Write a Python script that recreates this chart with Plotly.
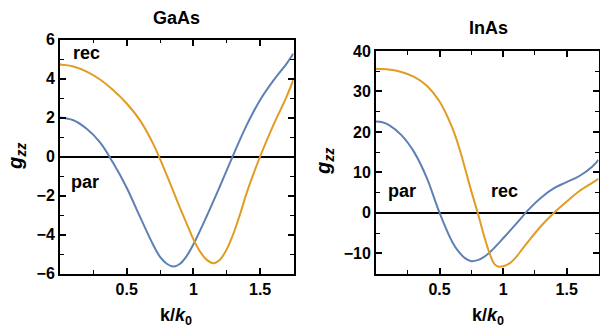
import plotly.graph_objects as go

# ---- GaAs data ----
gaas_par_k = [0.0, 0.1, 0.2, 0.3, 0.4, 0.5, 0.6, 0.7, 0.75, 0.8, 0.85, 0.9, 0.95, 1.0, 1.1, 1.2, 1.3, 1.4, 1.5, 1.6, 1.7, 1.75]
gaas_par_g = [2.0, 1.86, 1.42, 0.72, -0.35, -1.6, -3.1, -4.55, -5.15, -5.5, -5.64, -5.5, -5.1, -4.5, -3.05, -1.5, 0.1, 1.62, 2.9, 3.9, 4.78, 5.28]

gaas_rec_k = [0.0, 0.1, 0.2, 0.3, 0.4, 0.5, 0.6, 0.7, 0.8, 0.9, 0.95, 1.0, 1.05, 1.1, 1.15, 1.2, 1.25, 1.3, 1.35, 1.4, 1.5, 1.6, 1.7, 1.75]
gaas_rec_g = [4.72, 4.62, 4.35, 3.95, 3.4, 2.72, 1.85, 0.62, -0.95, -2.65, -3.45, -4.25, -4.88, -5.3, -5.47, -5.28, -4.75, -3.95, -2.95, -1.85, 0.0, 1.62, 3.1, 3.95]

# ---- InAs data ----
inas_par_k = [0.0, 0.05, 0.1, 0.2, 0.3, 0.4, 0.5, 0.6, 0.65, 0.7, 0.75, 0.8, 0.85, 0.9, 1.0, 1.1, 1.2, 1.3, 1.4, 1.5, 1.6, 1.7, 1.75]
inas_par_g = [22.6, 22.4, 21.75, 19.2, 15.0, 8.6, 0.0, -7.2, -9.6, -11.2, -11.95, -11.7, -10.9, -9.6, -6.3, -2.8, 0.8, 3.8, 6.1, 7.6, 9.1, 11.4, 13.1]

inas_rec_k = [0.0, 0.1, 0.2, 0.3, 0.4, 0.5, 0.6, 0.65, 0.7, 0.75, 0.8, 0.85, 0.9, 0.93, 0.96, 1.0, 1.05, 1.1, 1.15, 1.2, 1.3, 1.4, 1.5, 1.6, 1.7, 1.75]
inas_rec_g = [35.6, 35.4, 34.8, 33.6, 31.4, 27.5, 21.0, 16.5, 11.0, 5.3, 0.0, -5.7, -10.6, -12.6, -13.25, -13.2, -12.5, -11.0, -9.0, -7.0, -3.2, 0.0, 2.8, 5.4, 7.4, 8.4]

x_tickvals = [0.5, 1, 1.5]
x_ticktext = ["0.5", "1", "1.5"]
gaas_yticks = [-6, -4, -2, 0, 2, 4, 6]
inas_yticks = [-10, 0, 10, 20, 30, 40]

BLUE = "#5E81B5"
ORANGE = "#E19C24"
FONT = "Liberation Sans"

fig = go.Figure()
def line(c):
    return dict(color=c, width=2, shape="spline", smoothing=1.0)
fig.add_trace(go.Scatter(x=gaas_par_k, y=gaas_par_g, mode="lines", line=line(BLUE), xaxis="x", yaxis="y", showlegend=False, hoverinfo="skip"))
fig.add_trace(go.Scatter(x=gaas_rec_k, y=gaas_rec_g, mode="lines", line=line(ORANGE), xaxis="x", yaxis="y", showlegend=False, hoverinfo="skip"))
fig.add_trace(go.Scatter(x=inas_par_k, y=inas_par_g, mode="lines", line=line(BLUE), xaxis="x2", yaxis="y2", showlegend=False, hoverinfo="skip"))
fig.add_trace(go.Scatter(x=inas_rec_k, y=inas_rec_g, mode="lines", line=line(ORANGE), xaxis="x2", yaxis="y2", showlegend=False, hoverinfo="skip"))

W, H = 600, 331
def fx(px): return px / W
def fy(py): return 1 - py / H

tickfont = dict(family=FONT, size=16, color="black")
common_x = dict(range=[0, 1.75], tickvals=x_tickvals, ticktext=[f"<b>{t}</b>" for t in x_ticktext],
                ticks="inside", ticklen=6, tickwidth=1.5, tickcolor="black",
                showline=True, linewidth=2, linecolor="black", mirror="allticks",
                showgrid=False, zeroline=False, tickfont=tickfont, automargin=False,
                minor=dict(dtick=0.25, tick0=0, ticks="inside", ticklen=3.5, tickwidth=1.2, tickcolor="black", showgrid=False))
common_y = dict(ticks="inside", ticklen=6, tickwidth=1.5, tickcolor="black",
                showline=True, linewidth=2, linecolor="black", mirror="allticks", automargin=False,
                showgrid=False, zeroline=True, zerolinecolor="black", zerolinewidth=1.6, tickfont=tickfont)

fig.update_layout(
    width=W, height=H,
    margin=dict(l=0, r=0, t=0, b=0, autoexpand=False),
    paper_bgcolor="white", plot_bgcolor="white",
    xaxis=dict(domain=[fx(60), fx(293.5)], anchor="y", **common_x),
    yaxis=dict(domain=[fy(273.5), fy(39.5)], anchor="x", range=[-6, 6], tickvals=gaas_yticks,
               ticktext=[f"<b>{'−' if v < 0 else ''}{abs(v)}</b>" for v in gaas_yticks],
               minor=dict(dtick=1, tick0=0, ticks="inside", ticklen=3.5, tickwidth=1.2, tickcolor="black", showgrid=False),
               **common_y),
    xaxis2=dict(domain=[fx(376), fx(598.5)], anchor="y2", **common_x),
    yaxis2=dict(domain=[fy(273.5), fy(51)], anchor="x2", range=[-15, 40], tickvals=inas_yticks,
                ticktext=[f"<b>{'−' if v < 0 else ''}{abs(v)}</b>" for v in inas_yticks],
                minor=dict(dtick=5, tick0=0, ticks="inside", ticklen=3.5, tickwidth=1.2, tickcolor="black", showgrid=False),
                **common_y),
)

def A(text, px, py, size, angle=0):
    return dict(text=text, x=fx(px), y=fy(py), xref="paper", yref="paper", showarrow=False,
                xanchor="center", yanchor="middle", textangle=angle,
                font=dict(family=FONT, size=size, color="black"))

ann = [
    A("<b>GaAs</b>", 176, 18, 18),
    A("<b>InAs</b>", 488, 28, 18),
    A("<b>rec</b>", 86, 53, 18),
    A("<b>par</b>", 85, 182, 18),
    A("<b>par</b>", 402, 191, 18),
    A("<b>rec</b>", 504, 191, 18),
    A("<b><i>g</i><sub><i>zz</i></sub></b>", 17, 157, 20, -90),
    A("<b><i>g</i><sub><i>zz</i></sub></b>", 325, 162, 20, -90),
    A("<b>k/<i>k</i><sub>0</sub></b>", 176, 316, 18),
    A("<b>k/<i>k</i><sub>0</sub></b>", 488, 316, 18),
]
fig.update_layout(annotations=ann)

fig.write_html("out.html", config={"displayModeBar": False},
               post_script="document.body.style.margin='0';document.body.style.padding='0';")
